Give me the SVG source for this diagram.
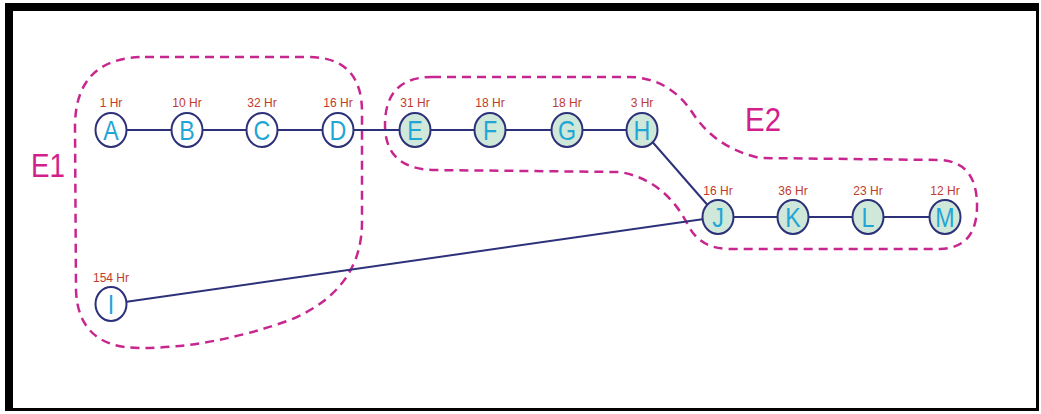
<svg xmlns="http://www.w3.org/2000/svg" width="1041" height="414" viewBox="0 0 1041 414">
  <style>
    .edge { stroke: #2d3179; stroke-width: 2; fill: none; }
    .node { stroke: #2d3179; stroke-width: 2; }
    .plain { fill: #ffffff; }
    .shaded { fill: #cfe8da; }
    .letter { font-family: "Liberation Sans", Arial, sans-serif; font-size: 27px; fill: #1fa5d6; text-anchor: middle; }
    .hours { font-family: "Liberation Sans", Arial, sans-serif; font-size: 12px; fill: #bf3b2c; text-anchor: middle; }
    .zone { fill: none; stroke: #c8268f; stroke-width: 2.5; stroke-dasharray: 9 6; }
    .zone-label { font-family: "Liberation Sans", Arial, sans-serif; font-size: 33px; fill: #d21f8c; }
  </style>

  <!-- frame -->
  <rect x="0" y="0" width="1041" height="414" fill="#ffffff"/>
  <rect x="5" y="3" width="1034" height="408" fill="#000000"/>
  <rect x="13" y="11" width="1023" height="397" fill="#ffffff"/>

  <!-- grouping outlines -->
  <g id="zones">
    <path id="zone-e1" class="zone" d="M 145 57 L 308 57 Q 362 57 362 112 L 362 222 Q 362 290 290 320 Q 212 348 140 348 Q 78 348 76 290 L 75 125 Q 76 57 145 57 Z"/>
    <path id="zone-e2" class="zone" d="M 432 77 L 628 77 Q 668 77 692 112 Q 715 148 760 158 L 940 160 Q 978 162 977 208 Q 976 248 940 249 L 730 249 Q 700 249 688 225 Q 665 180 620 172 L 432 170 Q 385 168 385 125 Q 385 77 432 77 Z"/>
  </g>
  <text class="zone-label" x="31" y="177" textLength="34" lengthAdjust="spacingAndGlyphs">E1</text>
  <text class="zone-label" x="745" y="131" textLength="36" lengthAdjust="spacingAndGlyphs">E2</text>

  <!-- connectors -->
  <g id="connectors">
    <line class="edge" x1="111" y1="130" x2="642" y2="130"/>
    <line class="edge" x1="718" y1="217" x2="945" y2="217"/>
    <line class="edge" x1="642" y1="130" x2="718" y2="217"/>
    <line class="edge" x1="111" y1="304" x2="718" y2="217"/>
  </g>

  <!-- nodes: letters are narrowed horizontally around their centre -->
  <g id="node-A"><ellipse class="node plain" cx="111" cy="130" rx="15.5" ry="17"/><text class="letter" transform="translate(111 139.5) scale(0.86 1)">A</text><text class="hours" x="111" y="107">1 Hr</text></g>
  <g id="node-B"><ellipse class="node plain" cx="187" cy="130" rx="15.5" ry="17"/><text class="letter" transform="translate(187 139.5) scale(0.86 1)">B</text><text class="hours" x="187" y="107">10 Hr</text></g>
  <g id="node-C"><ellipse class="node plain" cx="262" cy="130" rx="15.5" ry="17"/><text class="letter" transform="translate(262 139.5) scale(0.86 1)">C</text><text class="hours" x="262" y="107">32 Hr</text></g>
  <g id="node-D"><ellipse class="node plain" cx="338" cy="130" rx="15.5" ry="17"/><text class="letter" transform="translate(338 139.5) scale(0.86 1)">D</text><text class="hours" x="338" y="107">16 Hr</text></g>
  <g id="node-E"><ellipse class="node shaded" cx="415" cy="130" rx="15.5" ry="17"/><text class="letter" transform="translate(415 139.5) scale(0.86 1)">E</text><text class="hours" x="415" y="107">31 Hr</text></g>
  <g id="node-F"><ellipse class="node shaded" cx="490" cy="130" rx="15.5" ry="17"/><text class="letter" transform="translate(490 139.5) scale(0.86 1)">F</text><text class="hours" x="490" y="107">18 Hr</text></g>
  <g id="node-G"><ellipse class="node shaded" cx="567" cy="130" rx="15.5" ry="17"/><text class="letter" transform="translate(567 139.5) scale(0.86 1)">G</text><text class="hours" x="567" y="107">18 Hr</text></g>
  <g id="node-H"><ellipse class="node shaded" cx="642" cy="130" rx="15.5" ry="17"/><text class="letter" transform="translate(642 139.5) scale(0.86 1)">H</text><text class="hours" x="642" y="107">3 Hr</text></g>
  <g id="node-J"><ellipse class="node shaded" cx="718" cy="217" rx="15.5" ry="17"/><text class="letter" transform="translate(718 226.5) scale(0.86 1)">J</text><text class="hours" x="718" y="195">16 Hr</text></g>
  <g id="node-K"><ellipse class="node shaded" cx="793" cy="217" rx="15.5" ry="17"/><text class="letter" transform="translate(793 226.5) scale(0.86 1)">K</text><text class="hours" x="793" y="195">36 Hr</text></g>
  <g id="node-L"><ellipse class="node shaded" cx="868" cy="217" rx="15.5" ry="17"/><text class="letter" transform="translate(868 226.5) scale(0.86 1)">L</text><text class="hours" x="868" y="195">23 Hr</text></g>
  <g id="node-M"><ellipse class="node shaded" cx="945" cy="217" rx="15.5" ry="17"/><text class="letter" transform="translate(945 226.5) scale(0.86 1)">M</text><text class="hours" x="945" y="195">12 Hr</text></g>
  <g id="node-I"><ellipse class="node plain" cx="111" cy="304" rx="15.5" ry="17"/><text class="letter" transform="translate(111 313.5) scale(0.86 1)">I</text><text class="hours" x="111" y="282">154 Hr</text></g>
</svg>
